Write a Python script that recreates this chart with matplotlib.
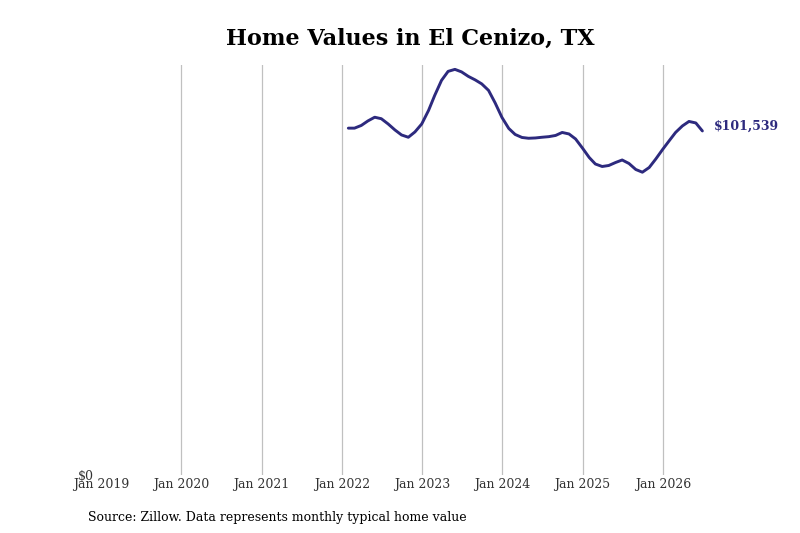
import matplotlib
matplotlib.use("Agg")
import matplotlib.pyplot as plt
import pandas as pd

dates = pd.date_range("2022-01-31", "2026-06-30", freq="ME")
values = [
    102366, 102366, 103165, 104495, 105590, 105150, 103608, 101835, 100357, 99677, 101244, 103608,
    107598, 112032, 116466, 119127, 119718, 118979, 117649, 116614, 115432, 113510, 109815, 105529,
    102278, 100504, 99617, 99381, 99470, 99677, 99854, 100208, 101095, 100652, 99174, 96513,
    93705, 91784, 91045, 91340, 92227, 92966, 91932, 90158, 89360, 90749, 93262, 96070,
    98730, 101095, 103017, 104347, 103903, 101539,
]
tick_years = list(range(2019, 2027))
tick_labels = [f"Jan {y}" for y in tick_years]
title = "Home Values in El Cenizo, TX"
source = "Source: Zillow. Data represents monthly typical home value"

line_color = "#2d2a7e"
plt.rcParams["font.family"] = ["DejaVu Serif"]

fig = plt.figure(figsize=(8, 5.33), dpi=100)
ax = fig.add_axes([0.1261, 0.109, 0.756, 0.769])

ax.plot(dates, values, color=line_color, linewidth=2.1, solid_capstyle="round")
ax.set_xlim(pd.Timestamp("2019-01-01"), pd.Timestamp("2026-07-15"))
ax.set_ylim(0, 121000)

ticks = [pd.Timestamp(f"{y}-01-01") for y in tick_years]
ax.set_xticks(ticks)
ax.set_xticklabels(tick_labels, fontsize=9, color="#333333")
ax.set_yticks([0])
ax.set_yticklabels(["$0"], fontsize=9, color="#333333")
ax.tick_params(axis="both", length=0)
ax.tick_params(axis="x", pad=2)
ax.tick_params(axis="y", pad=5)

ax.grid(axis="x", color="#c0c0c0", linewidth=0.9)
ax.grid(axis="y", visible=False)
ax.get_xgridlines()[0].set_visible(False)
for s in ax.spines.values():
    s.set_visible(False)

ax.annotate(f"${values[-1]:,}", xy=(dates[-1], values[-1]), xytext=(8, 3.5),
            textcoords="offset points", color=line_color, fontsize=9,
            fontweight="bold", va="center", ha="left")

fig.text(0.5125, 0.927, title, ha="center", va="center", fontsize=16, fontweight="bold")
fig.text(0.11, 0.03, source, ha="left", va="center", fontsize=9)

fig.savefig("out.png", dpi=100)
